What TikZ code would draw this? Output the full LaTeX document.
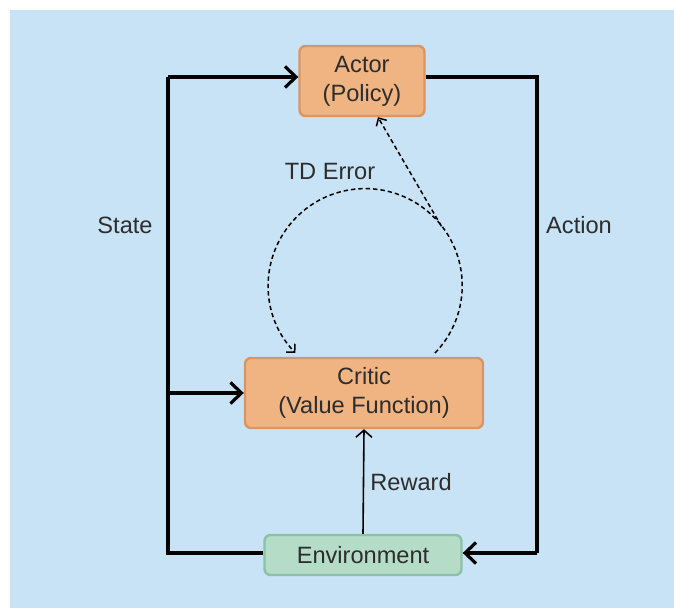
\documentclass[tikz,border=0pt]{standalone}
\usepackage{fontspec}
\setmainfont{Liberation Sans}
\usetikzlibrary{arrows.meta}
\definecolor{bgblue}{RGB}{200,227,246}
\definecolor{orfill}{RGB}{239,180,130}
\definecolor{ordraw}{RGB}{217,150,100}
\definecolor{grfill}{RGB}{180,220,198}
\definecolor{grdraw}{RGB}{140,192,168}
\definecolor{txt}{RGB}{45,45,45}
\tikzset{
  box/.style={draw=ordraw,fill=orfill,line width=1.2pt,rounded corners=3pt,
    align=center,text=txt,font=\fontsize{11.8}{14.5}\selectfont},
  envbox/.style={draw=grdraw,fill=grfill,line width=1.2pt,rounded corners=3pt,
    text=txt,font=\fontsize{11.8}{14.5}\selectfont},
  lbl/.style={text=txt,font=\fontsize{11.8}{14.5}\selectfont},
  flow/.style={line width=1.6pt,-{Straight Barb[length=5.5pt,width=10.5pt,line width=1.6pt]}},
  tdline/.style={line width=0.75pt,dash pattern=on 2.2pt off 1.5pt,
    -{Straight Barb[length=3pt,width=6pt,line width=0.75pt]}}
}
\begin{document}
\begin{tikzpicture}[x=0.5pt,y=-0.5pt]
		\useasboundingbox (0,0) rectangle (674,608);
		\fill[bgblue](10,10) rectangle (674,608);
		% boxes
		\node[box,minimum width=62.5pt,minimum height=35pt](actor) at (362,81) {Actor\\(Policy)};
		\node[box,minimum width=119pt,minimum height=35pt](critic) at (364,393) {Critic\\(Value Function)};
		\node[envbox,minimum width=98.5pt,minimum height=20pt](env) at (363,555) {Environment};
		% corners of the loop
		\coordinate (sl) at (168,553);
		\coordinate (st) at (168,77);
		\coordinate (sc) at (168,393);
		\coordinate (ar) at (537,77);
		\coordinate (ab) at (537,553);
		\draw[flow,-](env.west|-sl)--(sl)--(st);
		\draw[flow](st)--(actor.west|-st);
		\draw[flow](sc)--(critic.west|-sc);
		\draw[flow,-](actor.east|-ar)--(ar)--(ab);
		\draw[flow](ab)--(env.east|-ab);
		\draw[line width=0.8pt,-{Straight Barb[length=3.5pt,width=8pt,line width=0.8pt]}](env.north)--(critic.south);
		% TD error loop
		\coordinate (tdc) at (365,286);
		\coordinate (tds) at (435,353);
		\draw[tdline](tds) arc[start angle=-44,end angle=224,radius=48.5pt];
		\draw[tdline]([shift={(38:48.5pt)}]tdc)--([xshift=8pt]actor.south);
		% labels
		\node[lbl](state) at (125,225) {State};
		\node[lbl](action) at (579,225) {Action};
		\node[lbl](reward) at (411,482) {Reward};
		\node[lbl](tderr) at (330,172) {TD Error};
	    \end{tikzpicture}
\end{document}
